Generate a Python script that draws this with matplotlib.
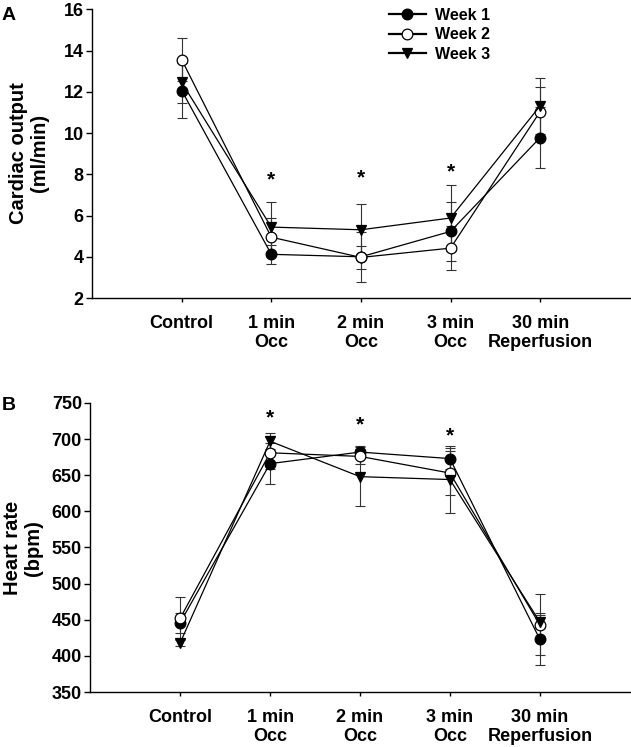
import numpy as np
import matplotlib
matplotlib.use('Agg')
import matplotlib.pyplot as plt

plt.rcParams['font.family'] = ['Liberation Sans', 'DejaVu Sans']
plt.rcParams['font.weight'] = 'bold'

# 数据
categories = ['Control', '1 min\nOcc', '2 min\nOcc', '3 min\nOcc', '30 min\nReperfusion']
weeks = ['Week 1', 'Week 2', 'Week 3']

co_mean = {
    'Week 1': [12.06, 4.12, 4.00, 5.23, 9.78],
    'Week 2': [13.55, 4.95, 3.97, 4.42, 11.04],
    'Week 3': [12.45, 5.44, 5.31, 5.88, 11.32],
}
co_sd = {
    'Week 1': [1.34, 0.45, 1.20, 1.45, 1.48],
    'Week 2': [1.05, 0.92, 0.57, 1.05, 1.20],
    'Week 3': [0.97, 1.20, 1.26, 1.58, 1.37],
}
hr_mean = {
    'Week 1': [446, 666, 682, 673, 423],
    'Week 2': [452, 681, 676, 653, 443],
    'Week 3': [418, 697, 648, 644, 447],
}
hr_sd = {
    'Week 1': [14, 28, 8, 15, 36],
    'Week 2': [30, 23, 10, 31, 42],
    'Week 3': [5, 11, 41, 46, 9],
}
co_star_y = [7.96, 8.06, 8.35]
hr_star_y = [736, 727, 711]
star_idx = [1, 2, 3]

STYLE = {
    'Week 1': dict(marker='o', mfc='black'),
    'Week 2': dict(marker='o', mfc='white'),
    'Week 3': dict(marker='v', mfc='black'),
}

fig = plt.figure(figsize=(6.31, 7.47), dpi=100)
ax1 = fig.add_axes([0.146, 0.601, 0.852, 0.3866])
ax2 = fig.add_axes([0.143, 0.0736, 0.855, 0.387])

x = np.arange(1, len(categories) + 1)


def draw_panel(ax, means, sds, ylim, yticks, star_y):
    for w in weeks:
        st = STYLE[w]
        ax.errorbar(x, means[w], yerr=sds[w], fmt='none', ecolor='#333333',
                    elinewidth=0.8, capsize=3.4, capthick=0.8, zorder=2)
        ax.plot(x, means[w], color='black', linewidth=0.9, marker=st['marker'],
                markersize=7.7, markerfacecolor=st['mfc'], markeredgecolor='black',
                markeredgewidth=0.9, label=w, zorder=3)
    # 星号: 视觉中心比文本锚点偏上, 向下偏移
    for i, sy in zip(star_idx, star_y):
        ax.annotate('*', xy=(x[i], sy), xytext=(0, -3.5), textcoords='offset points',
                    ha='center', va='center', fontsize=15, fontweight='bold')
    ax.set_xlim(0, 6)
    ax.set_ylim(*ylim)
    ax.set_yticks(yticks)
    ax.set_xticks(x)
    ax.set_xticklabels(categories, fontsize=13, fontweight='bold', linespacing=1.2)
    for lab in ax.get_yticklabels():
        lab.set_fontsize(13)
        lab.set_fontweight('bold')
    ax.spines['top'].set_visible(False)
    ax.spines['right'].set_visible(False)
    ax.spines['left'].set_linewidth(1.0)
    ax.spines['bottom'].set_linewidth(1.0)
    ax.tick_params(axis='y', direction='out', length=4, width=1.0, pad=2)
    ax.tick_params(axis='x', direction='out', length=3, width=1.0, pad=9)


draw_panel(ax1, co_mean, co_sd, (2, 16), np.arange(2, 17, 2), co_star_y)
draw_panel(ax2, hr_mean, hr_sd, (350, 750), np.arange(350, 751, 50), hr_star_y)

fig.text(29 / 631, 1 - 153 / 747, 'Cardiac output\n(ml/min)', rotation=90,
         ha='center', va='center', fontsize=14.5, fontweight='bold', linespacing=1.1)
fig.text(23 / 631, 1 - 548 / 747, 'Heart rate\n(bpm)', rotation=90,
         ha='center', va='center', fontsize=14.5, fontweight='bold', linespacing=1.1)

fig.text(2 / 631, 1 - 15 / 747, 'A', ha='left', va='center', fontsize=14, fontweight='bold')
fig.text(2 / 631, 1 - 405 / 747, 'B', ha='left', va='center', fontsize=14, fontweight='bold')

leg = ax1.legend(loc='upper left', bbox_to_anchor=(389 / 631, 1 - 8 / 747),
                 bbox_transform=fig.transFigure, frameon=False,
                 handlelength=2.3, handletextpad=0.55, labelspacing=0.28, borderpad=0,
                 borderaxespad=0, prop={'weight': 'bold', 'size': 11.5})
for h in leg.get_lines():
    h.set_linewidth(1.6)

fig.savefig('out.png', dpi=100)
